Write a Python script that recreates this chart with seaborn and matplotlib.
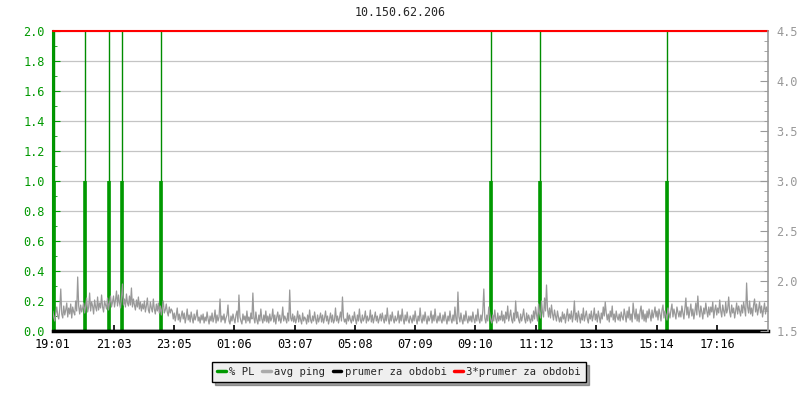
import numpy as np
import pandas as pd
import matplotlib
matplotlib.use("Agg")
import matplotlib.pyplot as plt
from matplotlib.lines import Line2D
from matplotlib.ticker import MultipleLocator, FormatStrFormatter
import seaborn as sns

# avg ping (ms, right axis), one sample every 2 minutes from 19:01, one row = one hour
start = pd.Timestamp("2024-01-01 19:01")
avg_ping = [
    1.70, 1.64, 1.60, 1.68, 1.74, 1.65, 1.62, 1.72, 1.92, 1.67, 1.63, 1.75, 1.66, 1.71, 1.78, 1.64, 1.73, 1.67, 1.77, 1.63, 1.74, 1.69, 1.66, 1.80, 1.70, 2.04, 1.75, 1.67, 1.76, 1.69,
    1.73, 1.78, 1.68, 1.75, 1.83, 1.69, 1.74, 1.88, 1.70, 1.79, 1.75, 1.67, 1.81, 1.74, 1.70, 1.84, 1.71, 1.78, 1.73, 1.86, 1.74, 1.69, 1.80, 1.76, 1.72, 1.83, 1.71, 1.78, 1.85, 1.74,
    1.79, 1.85, 1.74, 1.81, 1.90, 1.75, 1.86, 1.78, 1.73, 1.83, 1.97, 1.76, 1.82, 1.74, 1.87, 1.78, 1.75, 1.85, 1.76, 1.93, 1.74, 1.82, 1.76, 1.71, 1.81, 1.74, 1.84, 1.72, 1.79, 1.70,
    1.77, 1.72, 1.80, 1.69, 1.75, 1.83, 1.71, 1.68, 1.79, 1.73, 1.69, 1.82, 1.72, 1.67, 1.77, 1.70, 1.78, 1.68, 1.75, 1.66, 1.73, 1.80, 1.68, 1.71, 1.77, 1.69, 1.65, 1.74, 1.68, 1.72,
    1.70, 1.62, 1.68, 1.60, 1.66, 1.73, 1.61, 1.67, 1.59, 1.65, 1.70, 1.62, 1.68, 1.58, 1.64, 1.72, 1.61, 1.66, 1.59, 1.69, 1.63, 1.58, 1.67, 1.61, 1.65, 1.71, 1.60, 1.64, 1.58, 1.66,
    1.61, 1.67, 1.58, 1.64, 1.60, 1.69, 1.62, 1.57, 1.65, 1.60, 1.68, 1.59, 1.63, 1.71, 1.58, 1.66, 1.60, 1.64, 1.82, 1.59, 1.65, 1.61, 1.67, 1.58, 1.63, 1.66, 1.76, 1.60, 1.57, 1.65,
    1.60, 1.67, 1.62, 1.58, 1.66, 1.70, 1.59, 1.86, 1.64, 1.60, 1.57, 1.67, 1.61, 1.65, 1.58, 1.70, 1.60, 1.64, 1.58, 1.68, 1.62, 1.88, 1.63, 1.58, 1.69, 1.61, 1.57, 1.66, 1.60, 1.72,
    1.62, 1.58, 1.66, 1.60, 1.70, 1.59, 1.65, 1.58, 1.67, 1.60, 1.63, 1.72, 1.59, 1.66, 1.57, 1.64, 1.69, 1.60, 1.66, 1.58, 1.63, 1.74, 1.60, 1.65, 1.62, 1.58, 1.68, 1.60, 1.91, 1.63,
    1.60, 1.67, 1.59, 1.65, 1.58, 1.62, 1.70, 1.59, 1.66, 1.61, 1.57, 1.68, 1.60, 1.64, 1.62, 1.57, 1.66, 1.59, 1.71, 1.61, 1.58, 1.65, 1.60, 1.69, 1.62, 1.57, 1.66, 1.59, 1.63, 1.68,
    1.59, 1.66, 1.58, 1.63, 1.70, 1.60, 1.65, 1.57, 1.62, 1.68, 1.59, 1.66, 1.58, 1.61, 1.73, 1.60, 1.65, 1.58, 1.63, 1.69, 1.60, 1.84, 1.64, 1.59, 1.62, 1.57, 1.68, 1.60, 1.66, 1.61,
    1.58, 1.65, 1.60, 1.69, 1.62, 1.57, 1.66, 1.60, 1.72, 1.61, 1.58, 1.66, 1.60, 1.63, 1.70, 1.58, 1.65, 1.60, 1.62, 1.71, 1.59, 1.66, 1.58, 1.63, 1.69, 1.60, 1.65, 1.58, 1.62, 1.67,
    1.60, 1.68, 1.62, 1.58, 1.66, 1.60, 1.73, 1.62, 1.57, 1.66, 1.60, 1.69, 1.62, 1.58, 1.65, 1.60, 1.62, 1.70, 1.58, 1.66, 1.60, 1.72, 1.62, 1.57, 1.66, 1.60, 1.69, 1.61, 1.58, 1.65,
    1.62, 1.58, 1.66, 1.60, 1.70, 1.62, 1.57, 1.65, 1.60, 1.73, 1.62, 1.58, 1.66, 1.60, 1.69, 1.62, 1.57, 1.65, 1.60, 1.63, 1.70, 1.58, 1.66, 1.60, 1.72, 1.62, 1.58, 1.65, 1.60, 1.68,
    1.61, 1.58, 1.66, 1.60, 1.69, 1.62, 1.57, 1.65, 1.60, 1.70, 1.62, 1.58, 1.66, 1.60, 1.74, 1.62, 1.57, 1.89, 1.64, 1.59, 1.68, 1.61, 1.57, 1.66, 1.60, 1.70, 1.62, 1.58, 1.65, 1.60,
    1.65, 1.59, 1.69, 1.62, 1.58, 1.66, 1.60, 1.72, 1.62, 1.58, 1.66, 1.60, 1.70, 1.92, 1.63, 1.58, 1.66, 1.60, 1.74, 1.67, 1.61, 1.58, 1.66, 1.60, 1.71, 1.62, 1.58, 1.68, 1.60, 1.65,
    1.61, 1.70, 1.60, 1.66, 1.58, 1.69, 1.62, 1.75, 1.60, 1.65, 1.71, 1.61, 1.58, 1.68, 1.60, 1.80, 1.63, 1.69, 1.61, 1.58, 1.67, 1.60, 1.65, 1.72, 1.62, 1.58, 1.68, 1.60, 1.66, 1.62,
    1.58, 1.66, 1.60, 1.70, 1.62, 1.74, 1.66, 1.60, 1.77, 1.68, 1.63, 1.80, 1.69, 1.64, 1.83, 1.70, 1.96, 1.72, 1.64, 1.73, 1.63, 1.76, 1.67, 1.61, 1.71, 1.65, 1.60, 1.70, 1.64, 1.59,
    1.64, 1.59, 1.69, 1.62, 1.67, 1.58, 1.65, 1.72, 1.60, 1.67, 1.62, 1.70, 1.59, 1.66, 1.80, 1.61, 1.68, 1.59, 1.70, 1.64, 1.58, 1.67, 1.61, 1.73, 1.60, 1.65, 1.70, 1.62, 1.58, 1.67,
    1.62, 1.70, 1.60, 1.65, 1.73, 1.61, 1.67, 1.59, 1.70, 1.64, 1.58, 1.68, 1.62, 1.74, 1.65, 1.79, 1.68, 1.61, 1.67, 1.59, 1.70, 1.64, 1.75, 1.61, 1.67, 1.59, 1.70, 1.64, 1.61, 1.67,
    1.60, 1.69, 1.64, 1.61, 1.72, 1.66, 1.59, 1.70, 1.63, 1.74, 1.61, 1.67, 1.59, 1.78, 1.68, 1.62, 1.72, 1.60, 1.67, 1.59, 1.70, 1.75, 1.62, 1.71, 1.60, 1.67, 1.59, 1.70, 1.63, 1.72,
    1.66, 1.60, 1.71, 1.63, 1.68, 1.74, 1.64, 1.70, 1.61, 1.72, 1.67, 1.60, 1.71, 1.76, 1.63, 1.70, 1.66, 1.61, 1.73, 1.68, 1.63, 1.71, 1.77, 1.64, 1.72, 1.67, 1.62, 1.74, 1.69, 1.64,
    1.70, 1.64, 1.75, 1.68, 1.62, 1.73, 1.83, 1.66, 1.74, 1.63, 1.70, 1.77, 1.65, 1.72, 1.62, 1.69, 1.78, 1.66, 1.85, 1.71, 1.64, 1.75, 1.69, 1.62, 1.73, 1.67, 1.78, 1.70, 1.64, 1.74,
    1.66, 1.74, 1.69, 1.79, 1.63, 1.71, 1.76, 1.66, 1.73, 1.68, 1.81, 1.70, 1.64, 1.76, 1.70, 1.65, 1.79, 1.68, 1.72, 1.84, 1.69, 1.64, 1.76, 1.68, 1.73, 1.63, 1.70, 1.78, 1.67, 1.75,
    1.70, 1.65, 1.76, 1.68, 1.79, 1.72, 1.65, 1.98, 1.74, 1.68, 1.80, 1.67, 1.73, 1.65, 1.76, 1.82, 1.69, 1.77, 1.66, 1.72, 1.79, 1.68, 1.75, 1.64, 1.71, 1.78, 1.67, 1.74, 1.70,
]
ping_times = start + pd.to_timedelta(np.arange(len(avg_ping)) * 2, unit="min")

# packet loss events (% PL, left axis)
pl_clock = ["19:03", "20:05", "20:54", "21:20", "22:38", "09:42", "11:20", "15:35"]
pl_value = [1, 1, 1, 1, 1, 1, 1, 1]
pl_peak = [5, 5, 5, 5, 5, 5, 5, 5]

tick_labels = ["19:01", "21:03", "23:05", "01:06", "03:07", "05:08",
               "07:09", "09:10", "11:12", "13:13", "15:14", "17:16"]


def clock_to_ts(s):
    t = pd.Timestamp("2024-01-01 " + s)
    if t < start:
        t += pd.Timedelta(days=1)
    return t


pl_times = [clock_to_ts(s) for s in pl_clock]
tick_pos = [clock_to_ts(s) for s in tick_labels]
x_end = start + pd.Timedelta(minutes=1437)

ping_df = pd.DataFrame({"time": ping_times, "ping": avg_ping})
pl_mean = np.sum(pl_value) / 1437.0
ping_mean = np.mean(avg_ping)

sns.set_style("white")
plt.rcParams["font.family"] = ["DejaVu Sans Mono"]

green = "#009900"
gray = "#999999"

fig = plt.figure(figsize=(8, 4), dpi=100)
ax1 = fig.add_axes([0.066, 0.1725, 0.894, 0.75])
ax2 = ax1.twinx()

# left axis: packet loss
ax1.vlines(pl_times, 0, pl_peak, color="#008c00", lw=1)
ax1.vlines(pl_times, 0, pl_value, color=green, lw=2.6)
ax1.axhline(pl_mean, color="black", lw=1)
ax1.set_ylim(0, 2.0)
ax1.set_xlim(start, x_end)

# right axis: ping
sns.lineplot(data=ping_df, x="time", y="ping", ax=ax2, color=gray, lw=0.9)
ax2.set_ylim(1.5, 4.5)
ax2.axhline(min(3 * ping_mean, 4.5), color="#ff0000", lw=1.5, clip_on=False)

ax1.yaxis.set_major_locator(MultipleLocator(0.2))
ax1.yaxis.set_minor_locator(MultipleLocator(0.1))
ax1.yaxis.set_major_formatter(FormatStrFormatter("%.1f"))
ax1.grid(axis="y", color="#c4c4c4", lw=0.9)
ax1.set_axisbelow(True)
ax2.grid(False)
ax2.yaxis.set_major_locator(MultipleLocator(0.5))
ax2.yaxis.set_minor_locator(MultipleLocator(0.1))
ax2.yaxis.set_major_formatter(FormatStrFormatter("%.1f"))

ax1.set_xticks(tick_pos)
ax1.set_xticklabels(tick_labels)
ax2.set_xlabel("")
ax2.set_ylabel("")

ax1.tick_params(axis="y", which="both", direction="in", colors=green,
                labelsize=8.6, left=True, pad=6)
ax1.tick_params(axis="y", which="major", length=5)
ax1.tick_params(axis="y", which="minor", length=3)
ax1.tick_params(axis="x", direction="in", length=4, width=1.2, colors="black",
                labelsize=8.6, bottom=True, pad=5)
ax2.tick_params(axis="y", which="both", direction="in", colors=gray,
                labelsize=8.6, right=True, pad=6)
ax2.tick_params(axis="y", which="major", length=6)
ax2.tick_params(axis="y", which="minor", length=3)

for ax in (ax1, ax2):
    ax.spines["top"].set_visible(False)
ax1.spines["left"].set_color(green)
ax1.spines["left"].set_linewidth(1.5)
ax1.spines["bottom"].set_color("black")
ax1.spines["bottom"].set_linewidth(2.5)
ax1.spines["right"].set_visible(False)
ax2.spines["left"].set_visible(False)
ax2.spines["bottom"].set_visible(False)
ax2.spines["right"].set_color(gray)
ax2.spines["right"].set_linewidth(1.2)

fig.text(0.5, 0.97, "10.150.62.206", ha="center", va="center", fontsize=8.4)

handles = [
    Line2D([], [], color=green, lw=2.5),
    Line2D([], [], color="#aaaaaa", lw=2.5),
    Line2D([], [], color="black", lw=2.5),
    Line2D([], [], color="#ff0000", lw=2.5),
]
labels = ["% PL", "avg ping", "prumer za obdobi", "3*prumer za obdobi"]
leg = fig.legend(handles, labels, loc="center", bbox_to_anchor=(0.499, 0.07),
                 ncol=4, fontsize=7.6, frameon=True, fancybox=False, shadow=True,
                 edgecolor="black", facecolor="#efefef", framealpha=1,
                 handlelength=0.8, handletextpad=0.35, columnspacing=0.7,
                 borderpad=0.5)
leg.get_frame().set_linewidth(1)

fig.savefig("out.png", dpi=100)
